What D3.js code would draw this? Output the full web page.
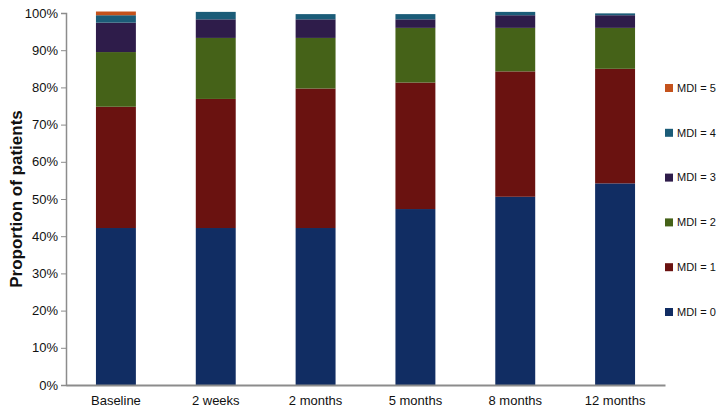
<!DOCTYPE html>
<html>
<head>
<meta charset="utf-8">
<script src="https://cdn.jsdelivr.net/npm/d3@7"></script>
<style>
  body { margin: 0; background: #fff; }
  svg { display: block; font-family: Arial, "Liberation Sans", sans-serif; }
</style>
</head>
<body>
<svg id="chart" width="720" height="416"></svg>
<script>
const categories = ["Baseline", "2 weeks", "2 months", "5 months", "8 months", "12 months"];
const seriesKeys = ["MDI = 0", "MDI = 1", "MDI = 2", "MDI = 3", "MDI = 4", "MDI = 5"];
const seriesColors = ["#112d63", "#6a1210", "#456218", "#2e1c4a", "#1b5c78", "#c4521c"];

// percentages per category, one array per MDI level
const mdi0 = [42.2, 42.2, 42.2, 47.3, 50.6, 54.2];
const mdi1 = [32.6, 34.7, 37.5, 34.0, 33.7, 30.8];
const mdi2 = [14.7, 16.4, 13.6, 14.7, 11.7, 11.0];
const mdi3 = [7.9, 5.0, 5.0, 2.3, 3.4, 3.4];
const mdi4 = [2.0, 2.0, 1.4, 1.4, 0.9, 0.5];
const mdi5 = [1.0, 0, 0, 0, 0, 0];

const yTicks = d3.range(0, 101, 10);

const series = [mdi0, mdi1, mdi2, mdi3, mdi4, mdi5];
const rows = categories.map((cat, i) => {
  const row = { cat };
  seriesKeys.forEach((key, k) => { row[key] = series[k][i]; });
  return row;
});

const margin = { top: 13, left: 66, bottom: 31, right: 55 };
const width = 720;
const height = 416;

const svg = d3.select("#chart");

const x = d3.scaleBand()
  .domain(categories)
  .range([margin.left, width - margin.right])
  .paddingInner(0.6)
  .paddingOuter(0.3);

const y = d3.scaleLinear()
  .domain([0, 100])
  .range([height - margin.bottom, margin.top]);

const stacked = d3.stack().keys(seriesKeys)(rows);

svg.append("g")
  .selectAll("g")
  .data(stacked)
  .join("g")
  .attr("fill", (d, i) => seriesColors[i])
  .selectAll("rect")
  .data((d) => d)
  .join("rect")
  .attr("x", (d) => x(d.data.cat))
  .attr("width", x.bandwidth())
  .attr("y", (d) => y(d[1]))
  .attr("height", (d) => Math.max(0, y(d[0]) - y(d[1])));

// y axis
const yAxis = svg.append("g")
  .attr("transform", `translate(${margin.left},0)`)
  .call(d3.axisLeft(y).tickValues(yTicks).tickSize(5).tickPadding(3).tickFormat((d) => d + "%"));
yAxis.select(".domain").attr("stroke", "#8c8c8c").attr("stroke-width", 1.5);
yAxis.selectAll(".tick line").attr("stroke", "#8c8c8c");
yAxis.selectAll(".tick text").attr("font-size", 13).attr("fill", "#111");

// x axis
const xAxis = svg.append("g")
  .attr("transform", `translate(0,${height - margin.bottom})`)
  .call(d3.axisBottom(x).tickSize(0).tickPadding(11));
xAxis.select(".domain").attr("stroke", "#8c8c8c").attr("stroke-width", 2);
xAxis.selectAll(".tick text").attr("font-size", 13).attr("fill", "#111");

// axis title
svg.append("text")
  .attr("transform", `translate(22,${(y(0) + y(100)) / 2}) rotate(-90)`)
  .attr("text-anchor", "middle")
  .attr("font-size", 17)
  .attr("font-weight", "bold")
  .attr("fill", "#111")
  .text("Proportion of patients");

// legend, top entry is MDI = 5
const legendY = d3.scalePoint()
  .domain(seriesKeys.slice().reverse())
  .range([88, 312]);

const legend = svg.append("g")
  .selectAll("g")
  .data(seriesKeys)
  .join("g")
  .attr("transform", (d) => `translate(665,${legendY(d)})`);

legend.append("rect")
  .attr("x", 0)
  .attr("y", -4)
  .attr("width", 8)
  .attr("height", 8)
  .attr("fill", (d, i) => seriesColors[i]);

legend.append("text")
  .attr("x", 12)
  .attr("dy", "0.35em")
  .attr("font-size", 11)
  .attr("fill", "#111")
  .text((d) => d);
</script>
</body>
</html>
